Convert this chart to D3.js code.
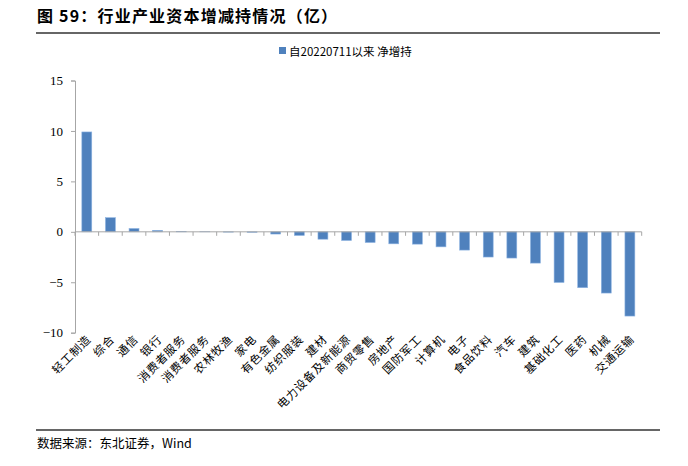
<!DOCTYPE html>
<html><head><meta charset="utf-8">
<script src="https://cdn.jsdelivr.net/npm/d3@7"></script>
<style>
html,body{margin:0;padding:0;background:#fff;}
svg{display:block;}
</style></head>
<body>
<svg id="chart" width="688" height="466"></svg>
<script>
const categories = ["轻工制造","综合","通信","银行","消费者服务","消费者服务","农林牧渔","家电","有色金属","纺织服装","建材","电力设备及新能源","商贸零售","房地产","国防军工","计算机","电子","食品饮料","汽车","建筑","基础化工","医药","机械","交通运输"];
const values = [9.9,1.4,0.33,0.15,0.02,0.01,-0.03,-0.05,-0.22,-0.36,-0.73,-0.86,-1.06,-1.19,-1.22,-1.49,-1.81,-2.5,-2.6,-3.1,-5.02,-5.54,-6.07,-8.35];
const yTicks = [-10,-5,0,5,10,15];
const seriesName = "自20220711以来 净增持";
const titleText = "图 59：行业产业资本增减持情况（亿）";
const sourceText = "数据来源：东北证券，Wind";

const svg = d3.select("#chart");
const cjk = "'Noto Sans CJK SC', 'Noto Sans', sans-serif";
const serif = "'Liberation Serif', 'DejaVu Serif', serif";

// title
svg.append("text").attr("x",37).attr("y",22)
  .attr("font-family",cjk).attr("font-weight",700).attr("font-size",16)
  .attr("letter-spacing",1.2)
  .attr("fill","#000").text(titleText);
svg.append("line").attr("x1",36).attr("x2",660).attr("y1",33).attr("y2",33)
  .attr("stroke","#333").attr("stroke-width",1.5);

// bottom
svg.append("line").attr("x1",36).attr("x2",660).attr("y1",430).attr("y2",430)
  .attr("stroke","#333").attr("stroke-width",1.5);
svg.append("text").attr("x",37).attr("y",448)
  .attr("font-family",cjk).attr("font-size",12.5).attr("fill","#000").text(sourceText);

// legend
svg.append("rect").attr("x",279).attr("y",47).attr("width",7).attr("height",7).attr("fill","#4F81BD");
svg.append("text").attr("x",289).attr("y",55.5)
  .attr("font-family",cjk).attr("font-size",11.5).attr("fill","#000").text(seriesName);

const x = d3.scaleBand().domain(d3.range(categories.length)).range([75,641.7]).paddingInner(0.58).paddingOuter(0.29);
const y = d3.scaleLinear().domain([-10,15]).range([332.7,80.5]);

// y axis
const yAxis = d3.axisLeft(y).tickValues(yTicks).tickSize(4).tickPadding(8).tickFormat(d3.format("d"));
const gy = svg.append("g").attr("transform","translate(75,0)").call(yAxis);
gy.select(".domain").attr("stroke","#A6A6A6");
gy.selectAll(".tick line").attr("stroke","#A6A6A6");
gy.selectAll(".tick text").attr("font-family",serif).attr("font-size",13).attr("fill","#000");

// bars
svg.append("g").selectAll("rect").data(values).join("rect")
  .attr("x",(d,i)=>x(i))
  .attr("width",x.bandwidth())
  .attr("y",d=>y(Math.max(0,d)))
  .attr("height",d=>Math.abs(y(d)-y(0)))
  .attr("fill","#4F81BD")
  .attr("stroke","#8DB3E2").attr("stroke-width",0.6);

// x axis at zero
const step = x.step();
const x0 = 75;
svg.append("line").attr("x1",x0).attr("x2",641.7).attr("y1",y(0)).attr("y2",y(0)).attr("stroke","#A6A6A6");
svg.append("g").selectAll("line").data(d3.range(categories.length+1)).join("line")
  .attr("x1",i=>x0+i*step).attr("x2",i=>x0+i*step)
  .attr("y1",y(0)).attr("y2",y(0)+4).attr("stroke","#A6A6A6");

// category labels
svg.append("g").selectAll("text").data(categories).join("text")
  .attr("transform",(d,i)=>`translate(${x(i)+x.bandwidth()/2+5},${340}) rotate(-45)`)
  .attr("text-anchor","end")
  .attr("font-family",cjk).attr("font-size",11.5).attr("letter-spacing",0.8).attr("fill","#000")
  .text(d=>d);
</script>
</body></html>
